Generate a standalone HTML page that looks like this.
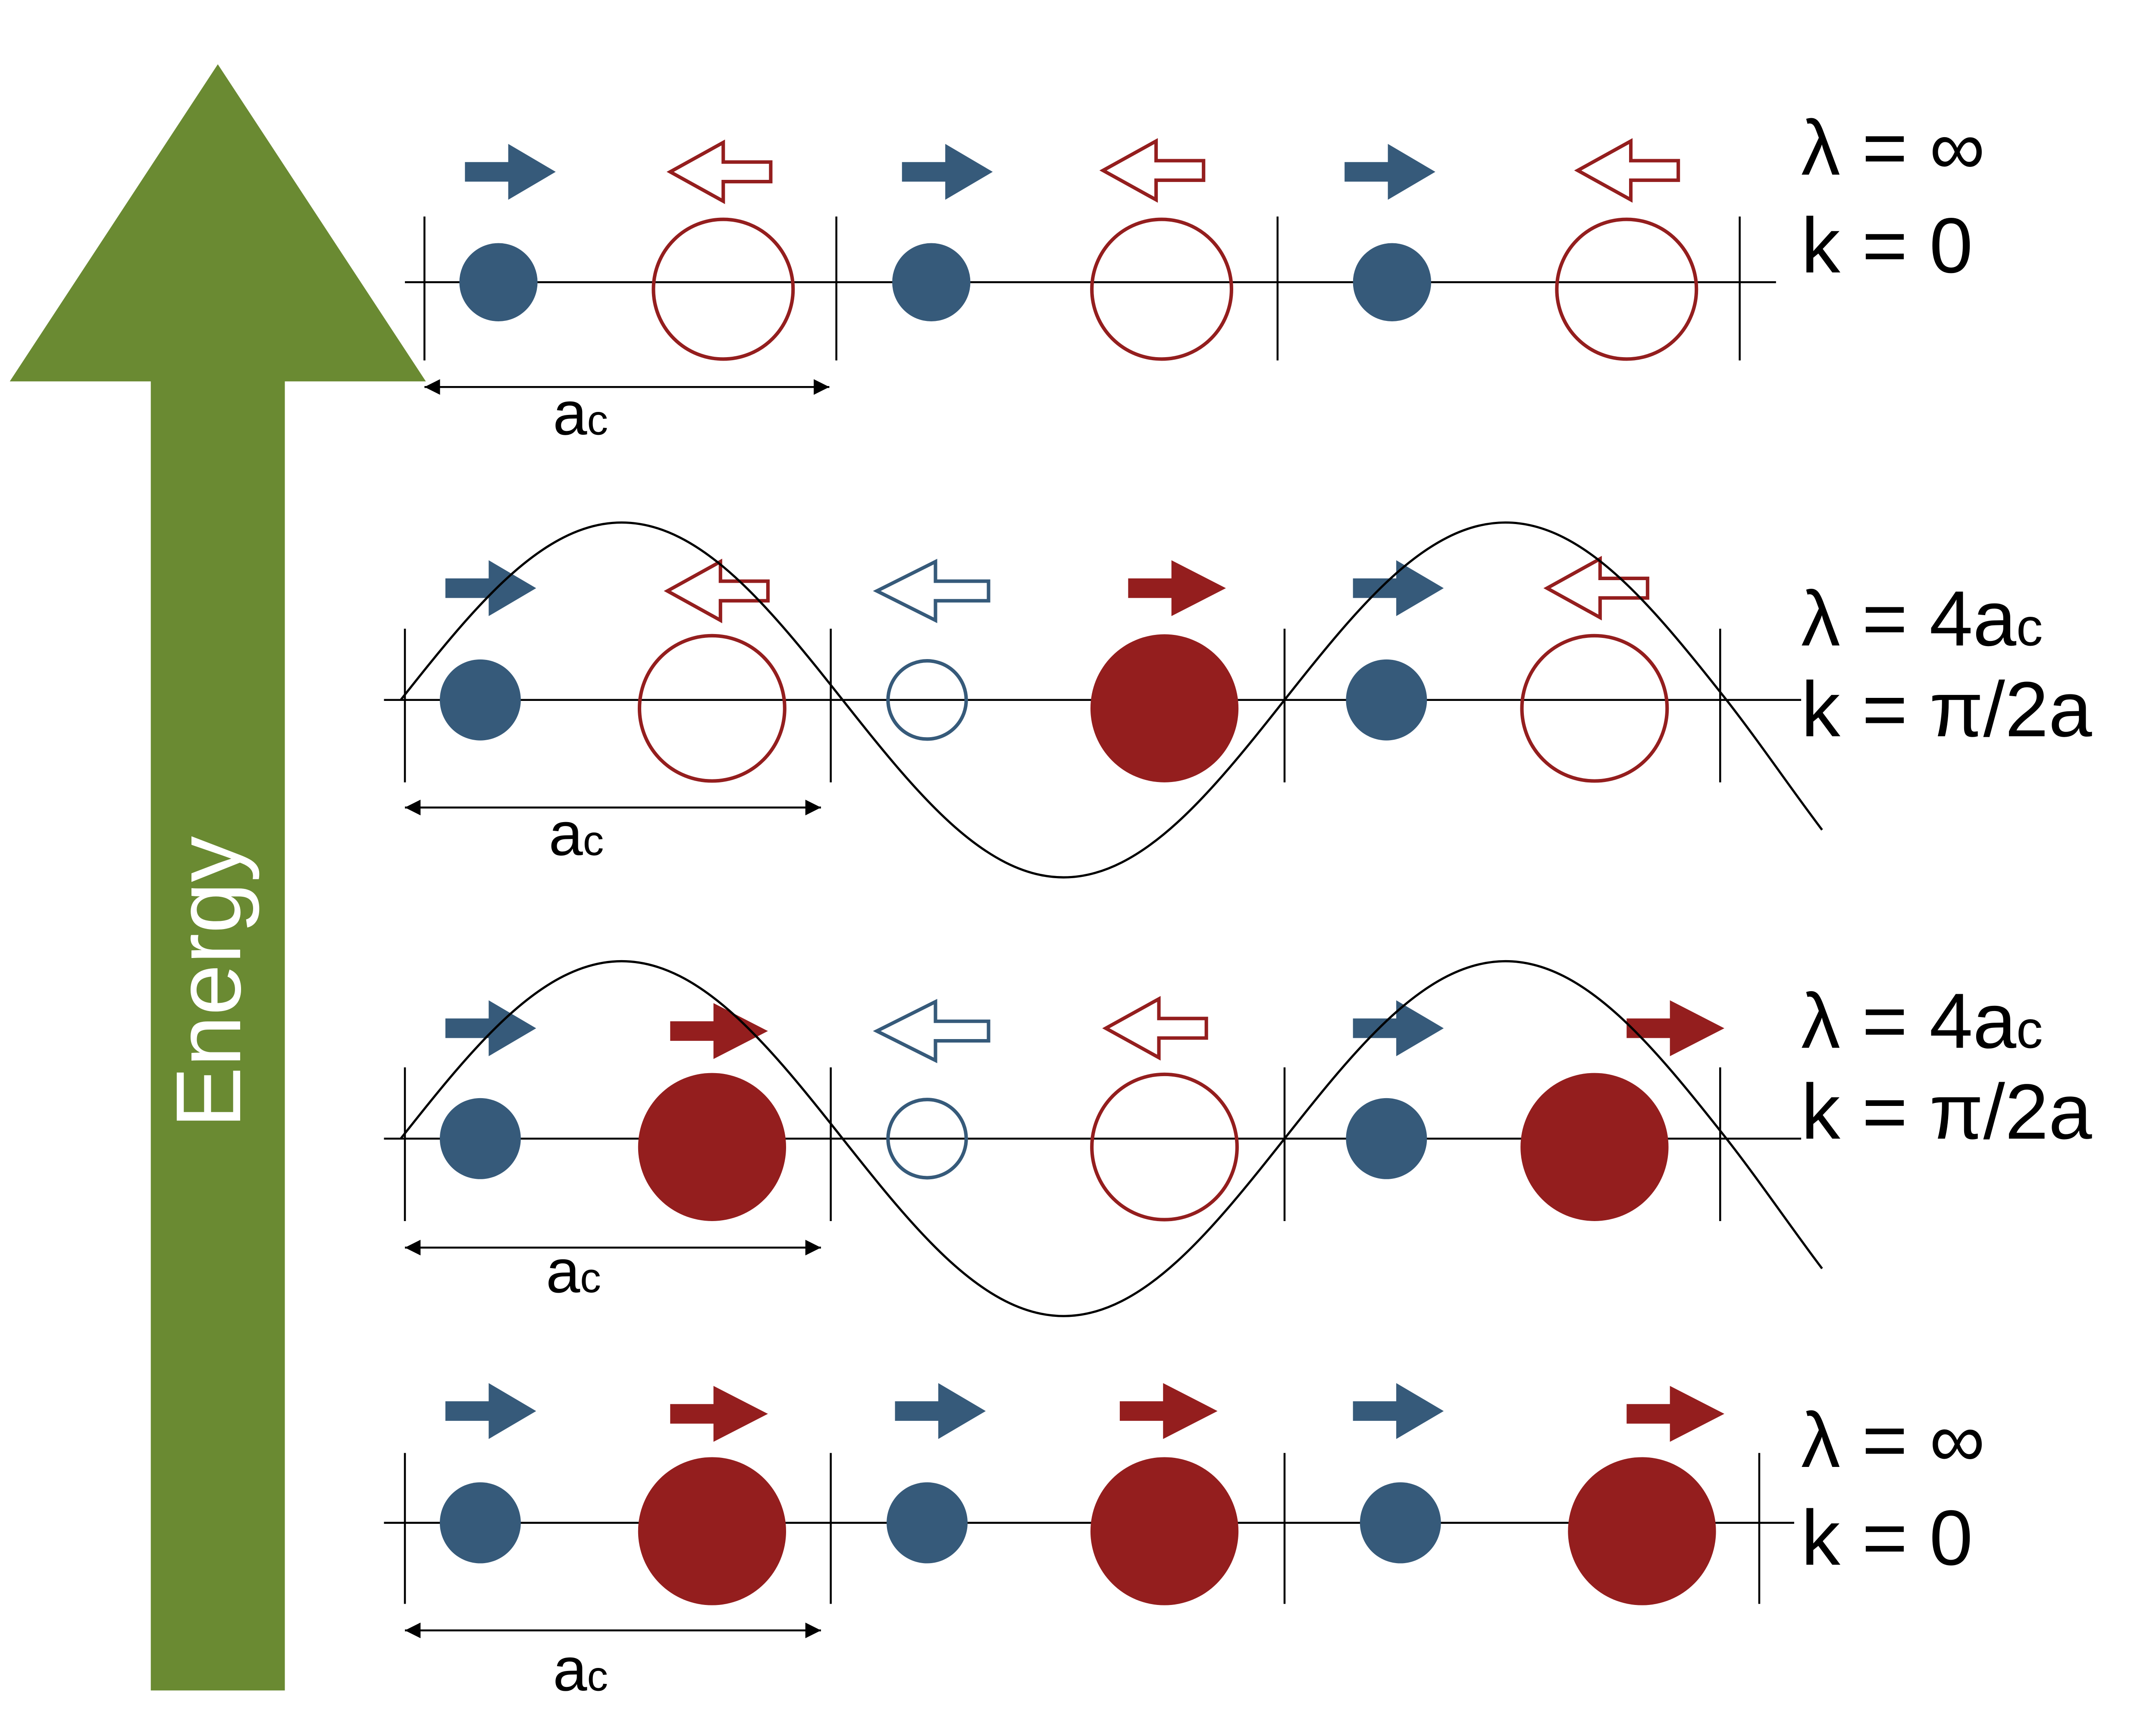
<!DOCTYPE html>
<html><head><meta charset="utf-8"><style>html,body{margin:0;padding:0;background:#fff}svg{display:block}</style></head>
<body>
<svg width="5074" height="3997" viewBox="0 0 1567 1234" preserveAspectRatio="none" xmlns="http://www.w3.org/2000/svg" font-family="Liberation Sans, sans-serif">
<defs>
<path id="rb" d="M0,-7 H31 V-20 L65,0 L31,20 V7 H0 Z" fill="#365a7a"/>
<path id="rr" d="M0,-7 H31 V-20 L70,0 L31,20 V7 H0 Z" fill="#941e1e"/>
<path id="lr" d="M0,0 L38,-21 V-7 H72 V7 H38 V21 Z" fill="none" stroke="#941e1e" stroke-width="2.5"/>
<path id="lb" d="M0,0 L42,-21 V-7 H80 V7 H42 V21 Z" fill="none" stroke="#365a7a" stroke-width="2.5"/>
<marker id="ah" viewBox="0 0 10 10" refX="10" refY="5" markerWidth="8" markerHeight="8" orient="auto-start-reverse"><path d="M0,0 L10,5 L0,10 Z" fill="#000"/></marker>
<path id="sine" d="M287,501 C338.6,435.9 388,374 445.25,374 C502.5,374 551.9,435.9 603.5,501 C655.1,566.1 704.5,628 761.75,628 C819,628 868.4,566.1 920,501 C971.6,435.9 1021,374 1078.25,374 C1135.5,374 1184.9,435.9 1236.5,501 C1260,531 1283,565 1305,594" fill="none" stroke="#000" stroke-width="1.6"/>
</defs>

<path d="M156,46 L305,273 H204 V1210 H108 V273 H7 Z" fill="#6a8a32"/>
<text transform="translate(172,703) rotate(-90)" text-anchor="middle" font-size="66" fill="#fff">Energy</text>

<g stroke="#000" stroke-width="1.4" fill="none">
<line x1="290" y1="202" x2="1272" y2="202"/>
<line x1="304" y1="155" x2="304" y2="258"/><line x1="599" y1="155" x2="599" y2="258"/><line x1="915" y1="155" x2="915" y2="258"/><line x1="1246" y1="155" x2="1246" y2="258"/>
<line x1="304" y1="277" x2="594" y2="277" marker-start="url(#ah)" marker-end="url(#ah)"/>
<line x1="275" y1="501" x2="1290" y2="501"/>
<line x1="290" y1="450" x2="290" y2="560"/><line x1="595" y1="450" x2="595" y2="560"/><line x1="920" y1="450" x2="920" y2="560"/><line x1="1232" y1="450" x2="1232" y2="560"/>
<line x1="290" y1="578" x2="588" y2="578" marker-start="url(#ah)" marker-end="url(#ah)"/>
<line x1="275" y1="815" x2="1290" y2="815"/>
<line x1="290" y1="764" x2="290" y2="874"/><line x1="595" y1="764" x2="595" y2="874"/><line x1="920" y1="764" x2="920" y2="874"/><line x1="1232" y1="764" x2="1232" y2="874"/>
<line x1="290" y1="893" x2="588" y2="893" marker-start="url(#ah)" marker-end="url(#ah)"/>
<line x1="275" y1="1090" x2="1285" y2="1090"/>
<line x1="290" y1="1040" x2="290" y2="1148"/><line x1="595" y1="1040" x2="595" y2="1148"/><line x1="920" y1="1040" x2="920" y2="1148"/><line x1="1260" y1="1040" x2="1260" y2="1148"/>
<line x1="290" y1="1167" x2="588" y2="1167" marker-start="url(#ah)" marker-end="url(#ah)"/>
</g>

<circle cx="357" cy="202" r="28" fill="#365a7a"/><circle cx="667" cy="202" r="28" fill="#365a7a"/><circle cx="997" cy="202" r="28" fill="#365a7a"/>
<circle cx="518" cy="207" r="50" fill="none" stroke="#941e1e" stroke-width="2.5"/><circle cx="832" cy="207" r="50" fill="none" stroke="#941e1e" stroke-width="2.5"/><circle cx="1165" cy="207" r="50" fill="none" stroke="#941e1e" stroke-width="2.5"/>
<use href="#rb" x="333" y="123"/><use href="#rb" x="646" y="123"/><use href="#rb" x="963" y="123"/>
<use href="#lr" x="480" y="123"/><use href="#lr" x="790" y="122"/><use href="#lr" x="1130" y="122"/>

<circle cx="344" cy="501" r="29" fill="#365a7a"/><circle cx="993" cy="501" r="29" fill="#365a7a"/>
<circle cx="664" cy="501" r="28" fill="none" stroke="#365a7a" stroke-width="2.5"/>
<circle cx="510" cy="507" r="52" fill="none" stroke="#941e1e" stroke-width="2.5"/><circle cx="1142" cy="507" r="52" fill="none" stroke="#941e1e" stroke-width="2.5"/>
<circle cx="834" cy="507" r="53" fill="#941e1e"/>
<use href="#rb" x="319" y="421"/><use href="#rb" x="969" y="421"/>
<use href="#lr" x="478" y="423"/><use href="#lr" x="1108" y="421"/>
<use href="#lb" x="628" y="423"/><use href="#rr" x="808" y="421"/>
<use href="#sine"/>

<circle cx="344" cy="815" r="29" fill="#365a7a"/><circle cx="993" cy="815" r="29" fill="#365a7a"/>
<circle cx="664" cy="815" r="28" fill="none" stroke="#365a7a" stroke-width="2.5"/>
<circle cx="510" cy="821" r="53" fill="#941e1e"/><circle cx="1142" cy="821" r="53" fill="#941e1e"/>
<circle cx="834" cy="821" r="52" fill="none" stroke="#941e1e" stroke-width="2.5"/>
<use href="#rb" x="319" y="736"/><use href="#rb" x="969" y="736"/>
<use href="#rr" x="480" y="738"/><use href="#rr" x="1165" y="736"/>
<use href="#lb" x="628" y="738"/><use href="#lr" x="792" y="736"/>
<use href="#sine" transform="translate(0,314)"/>

<circle cx="344" cy="1090" r="29" fill="#365a7a"/><circle cx="664" cy="1090" r="29" fill="#365a7a"/><circle cx="1003" cy="1090" r="29" fill="#365a7a"/>
<circle cx="510" cy="1096" r="53" fill="#941e1e"/><circle cx="834" cy="1096" r="53" fill="#941e1e"/><circle cx="1176" cy="1096" r="53" fill="#941e1e"/>
<use href="#rb" x="319" y="1010"/><use href="#rb" x="641" y="1010"/><use href="#rb" x="969" y="1010"/>
<use href="#rr" x="480" y="1012"/><use href="#rr" x="802" y="1010"/><use href="#rr" x="1165" y="1012"/>

<g font-size="44" fill="#000">
<text x="396" y="311">a<tspan font-size="30">c</tspan></text>
<text x="393" y="612">a<tspan font-size="30">c</tspan></text>
<text x="391" y="925">a<tspan font-size="30">c</tspan></text>
<text x="396" y="1210">a<tspan font-size="30">c</tspan></text>
</g>

<g font-size="56" fill="#000">
<text x="1290" y="125">λ = ∞</text>
<text x="1290" y="195">k = 0</text>
<text x="1290" y="462">λ = 4a<tspan font-size="38">c</tspan></text>
<text x="1290" y="527">k = π/2a</text>
<text x="1290" y="750">λ = 4a<tspan font-size="38">c</tspan></text>
<text x="1290" y="815">k = π/2a</text>
<text x="1290" y="1050">λ = ∞</text>
<text x="1290" y="1120">k = 0</text>
</g>
</svg>
</body></html>
